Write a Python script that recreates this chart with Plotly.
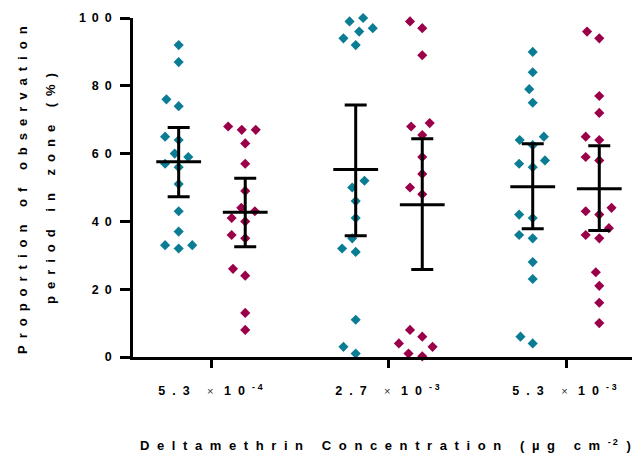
import math
import plotly.graph_objects as go

# ---------------- data ----------------
categories = ["5.3e-4", "2.7e-3", "5.3e-3"]
tick_labels = ["5.3", "2.7", "5.3"]
tick_exponents = ["-4", "-3", "-3"]

teal_values = [
    [92, 87, 76, 74, 65, 64, 59, 60, 56, 57, 51, 43, 37, 33, 32, 33],
    [99, 100, 96, 97, 94, 92, 52, 50, 46, 41, 35, 31, 32, 11, 1, 3],
    [90, 84, 79, 75, 65, 64, 62.5, 57, 58, 56, 41, 42, 36, 35, 28, 23, 4, 6],
]
magenta_values = [
    [67, 68, 67, 63, 57, 49, 43, 44, 40, 41, 36, 35, 24, 26, 13, 8],
    [99, 97, 89, 68, 69, 65.5, 59, 54, 50, 48, 8, 6, 3, 4, 0.2, 1],
    [96, 94, 77, 72, 64, 65, 59, 58, 44, 43, 42, 38, 36, 35, 25, 21, 16, 10],
]
teal_mean = [57.6, 55.3, 50.2]
teal_upper = [67.7, 74.3, 62.9]
teal_lower = [47.3, 35.8, 37.8]
magenta_mean = [42.7, 44.9, 49.6]
magenta_upper = [52.7, 64.4, 62.3]
magenta_lower = [32.5, 25.8, 37.3]

yticks = [0, 20, 40, 60, 80, 100]

# ---------------- styling ----------------
TEAL = "#0a7d95"
MAGENTA = "#9a0049"
FONT = "Liberation Sans, Arial, sans-serif"
BODY = 8                      # default page margin around the plot div
PAGE_W, PAGE_H = 640, 457
W, H = PAGE_W - BODY, PAGE_H - BODY
PLOT_L, PLOT_T, PLOT_B = 133, 18, 357   # page pixels of the plot area
ML, MT, MR = PLOT_L - BODY, PLOT_T - BODY, 0
MB = H - MT - (PLOT_B - PLOT_T)
XR = [-0.446, 2.418]
GROUP_OFF = 0.188

plot_w = W - ML - MR
plot_h = PLOT_B - PLOT_T
XSCALE = plot_w / (XR[1] - XR[0])
YSCALE = plot_h / 100.0


def ls(text, px=7, size=None, weight=None, color=None):
    st = f"letter-spacing:{px}px"
    if size:
        st += f";font-size:{size}px"
    if weight:
        st += f";font-weight:{weight}"
    if color:
        st += f";color:{color}"
    return f"<span style='{st}'>{text}</span>"


def px2paper_x(px):
    return (px - PLOT_L) / plot_w


def px2paper_y(py):
    return (PLOT_B - py) / plot_h


def swarm(vals, D=14.0):
    """Simple beeswarm: offsets (in data units) avoiding overlaps in pixel space."""
    order = sorted(range(len(vals)), key=lambda i: vals[i])
    placed = []
    offs = [0.0] * len(vals)
    for i in order:
        y = vals[i] * YSCALE
        forb = []
        for px, py in placed:
            dy = abs(y - py)
            if dy < D:
                h = math.sqrt(D * D - dy * dy)
                forb.append((px - h, px + h))
        cands = [0.0] + [a for a, b in forb] + [b for a, b in forb]
        valid = [c for c in cands if all(not (a + 1e-9 < c < b - 1e-9) for a, b in forb)]
        best = min(valid, key=lambda c: (abs(c), c))
        placed.append((best, y))
        offs[i] = best / XSCALE
    return offs


fig = go.Figure()

for series, color, sign in [(teal_values, TEAL, -1), (magenta_values, MAGENTA, 1)]:
    xs, ys = [], []
    for ci, vals in enumerate(series):
        offs = swarm(vals)
        for v, o in zip(vals, offs):
            xs.append(ci + sign * GROUP_OFF + o)
            ys.append(v)
    fig.add_trace(go.Scatter(
        x=xs, y=ys, mode="markers", cliponaxis=False, showlegend=False,
        marker=dict(symbol="diamond", size=7.8, color=color, line=dict(width=0)),
    ))

for mean, up, lo, sign in [(teal_mean, teal_upper, teal_lower, -1),
                           (magenta_mean, magenta_upper, magenta_lower, 1)]:
    fig.add_trace(go.Scatter(
        x=[i + sign * GROUP_OFF for i in range(len(categories))], y=mean,
        mode="markers", cliponaxis=False, showlegend=False,
        marker=dict(symbol="line-ew", size=32, color="black",
                    line=dict(width=3, color="black")),
        error_y=dict(type="data", symmetric=False,
                     array=[u - m for u, m in zip(up, mean)],
                     arrayminus=[m - l for m, l in zip(mean, lo)],
                     color="black", thickness=3, width=11),
    ))

xticktext = [
    ls(t + " ", 7) + ls("×", 0, 11, "normal", "#333333") + ls(" 10", 7)
    + "<sup>" + ls(e, 3) + "</sup>"
    for t, e in zip(tick_labels, tick_exponents)
]

fig.update_layout(
    width=W, height=H,
    margin=dict(l=ML, r=MR, t=MT, b=MB),
    paper_bgcolor="white", plot_bgcolor="white",
    font=dict(family=FONT, size=13, color="black"),
    xaxis=dict(
        range=XR, tickvals=list(range(len(categories))), ticktext=xticktext,
        showline=True, linewidth=2.5, linecolor="black", mirror=False,
        ticks="outside", ticklen=8, tickwidth=2.5, tickcolor="black",
        showgrid=False, zeroline=False,
        tickfont=dict(family=FONT, size=12.5, weight="bold"),
        ticklabelstandoff=12,
    ),
    yaxis=dict(
        range=[0, 100], tickvals=yticks, ticktext=[ls(str(v), 6) for v in yticks],
        showline=True, linewidth=2.5, linecolor="black",
        ticks="outside", ticklen=10, tickwidth=2.5, tickcolor="black",
        showgrid=False, zeroline=False,
        tickfont=dict(family=FONT, size=12.5, weight="bold"),
        ticklabelstandoff=0,
    ),
    annotations=[
        dict(text=ls("Proportion of observation", 7), xref="paper", yref="paper",
             x=px2paper_x(22), y=px2paper_y(187), xanchor="center", yanchor="middle",
             textangle=-90, showarrow=False,
             font=dict(family=FONT, size=13, weight="bold")),
        dict(text=ls("period in zone (%)", 7), xref="paper", yref="paper",
             x=px2paper_x(51), y=px2paper_y(185), xanchor="center", yanchor="middle",
             textangle=-90, showarrow=False,
             font=dict(family=FONT, size=13, weight="bold")),
        dict(text=ls("Deltamethrin Concentration (µg cm", 7.6)
             + "<sup>" + ls("-2", 2) + "</sup>" + ls(" )", 3),
             xref="paper", yref="paper",
             x=px2paper_x(387), y=px2paper_y(445),
             xanchor="center", yanchor="middle", showarrow=False,
             font=dict(family=FONT, size=13, weight="bold")),
    ],
)

fig.write_html("out.html")
